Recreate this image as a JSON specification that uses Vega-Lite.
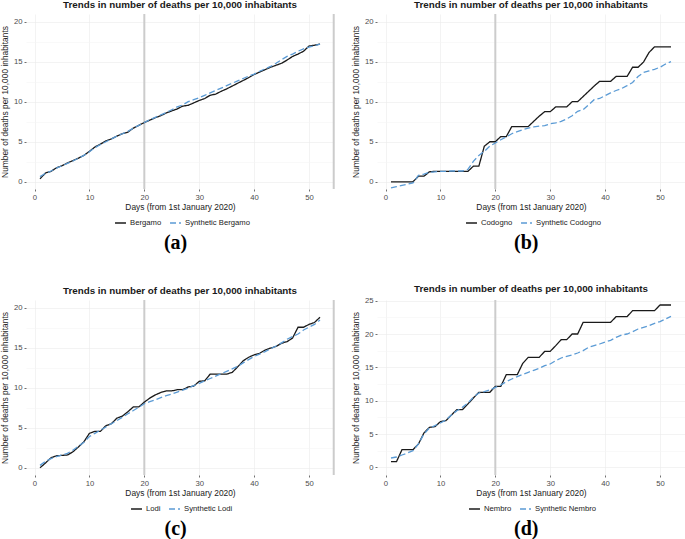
{
  "$schema": "https://vega.github.io/schema/vega-lite/v6.json",
  "background": "white",
  "padding": 0,
  "config": {
    "font": "Liberation Sans",
    "view": {"stroke": null},
    "axis": {"labelFontSize": 7.7, "labelColor": "#4d4d4d", "titleFontSize": 8.4, "titleFontWeight": "normal", "titleColor": "#1a1a1a", "domain": false, "tickColor": "#333333", "tickSize": 2, "tickWidth": 0.7, "labelPadding": 2, "gridWidth": 0.6},
    "axisX": {"titlePadding": 2},
    "axisY": {"titlePadding": 4},
    "legend": {"direction": "horizontal", "title": null, "symbolType": "stroke", "symbolSize": 120, "symbolStrokeWidth": 1.5, "labelFontSize": 7.7, "labelColor": "#1a1a1a", "columnPadding": 5, "labelOffset": 3, "padding": 0},
    "title": {"font": "Liberation Sans", "fontSize": 9.8, "fontWeight": "bold", "color": "#1a1a1a", "anchor": "middle", "frame": "group", "offset": 3}
  },
  "datasets": {
    "a": [
      {"day":1,"Bergamo":0.37,"Synthetic Bergamo":0.65},{"day":2,"Bergamo":1.1,"Synthetic Bergamo":1.05},{"day":3,"Bergamo":1.3,"Synthetic Bergamo":1.35},{"day":4,"Bergamo":1.75,"Synthetic Bergamo":1.7},{"day":5,"Bergamo":2.0,"Synthetic Bergamo":2.0},{"day":6,"Bergamo":2.35,"Synthetic Bergamo":2.3},{"day":7,"Bergamo":2.65,"Synthetic Bergamo":2.6},{"day":8,"Bergamo":2.95,"Synthetic Bergamo":2.95},{"day":9,"Bergamo":3.3,"Synthetic Bergamo":3.3},{"day":10,"Bergamo":3.8,"Synthetic Bergamo":3.75},
      {"day":11,"Bergamo":4.35,"Synthetic Bergamo":4.25},{"day":12,"Bergamo":4.7,"Synthetic Bergamo":4.65},{"day":13,"Bergamo":5.1,"Synthetic Bergamo":5.0},{"day":14,"Bergamo":5.35,"Synthetic Bergamo":5.35},{"day":15,"Bergamo":5.7,"Synthetic Bergamo":5.7},{"day":16,"Bergamo":6.0,"Synthetic Bergamo":6.0},{"day":17,"Bergamo":6.2,"Synthetic Bergamo":6.3},{"day":18,"Bergamo":6.7,"Synthetic Bergamo":6.7},{"day":19,"Bergamo":7.05,"Synthetic Bergamo":7.05},{"day":20,"Bergamo":7.4,"Synthetic Bergamo":7.4},
      {"day":21,"Bergamo":7.7,"Synthetic Bergamo":7.75},{"day":22,"Bergamo":8.0,"Synthetic Bergamo":8.05},{"day":23,"Bergamo":8.25,"Synthetic Bergamo":8.35},{"day":24,"Bergamo":8.6,"Synthetic Bergamo":8.65},{"day":25,"Bergamo":8.85,"Synthetic Bergamo":9.0},{"day":26,"Bergamo":9.1,"Synthetic Bergamo":9.35},{"day":27,"Bergamo":9.45,"Synthetic Bergamo":9.6},{"day":28,"Bergamo":9.55,"Synthetic Bergamo":10.0},{"day":29,"Bergamo":9.85,"Synthetic Bergamo":10.25},{"day":30,"Bergamo":10.15,"Synthetic Bergamo":10.5},
      {"day":31,"Bergamo":10.4,"Synthetic Bergamo":10.8},{"day":32,"Bergamo":10.8,"Synthetic Bergamo":11.1},{"day":33,"Bergamo":10.95,"Synthetic Bergamo":11.4},{"day":34,"Bergamo":11.3,"Synthetic Bergamo":11.7},{"day":35,"Bergamo":11.6,"Synthetic Bergamo":12.0},{"day":36,"Bergamo":11.95,"Synthetic Bergamo":12.3},{"day":37,"Bergamo":12.3,"Synthetic Bergamo":12.6},{"day":38,"Bergamo":12.65,"Synthetic Bergamo":12.9},{"day":39,"Bergamo":13.0,"Synthetic Bergamo":13.2},{"day":40,"Bergamo":13.4,"Synthetic Bergamo":13.45},
      {"day":41,"Bergamo":13.7,"Synthetic Bergamo":13.8},{"day":42,"Bergamo":14.0,"Synthetic Bergamo":14.1},{"day":43,"Bergamo":14.3,"Synthetic Bergamo":14.4},{"day":44,"Bergamo":14.55,"Synthetic Bergamo":14.8},{"day":45,"Bergamo":14.8,"Synthetic Bergamo":15.25},{"day":46,"Bergamo":15.2,"Synthetic Bergamo":15.65},{"day":47,"Bergamo":15.65,"Synthetic Bergamo":15.95},{"day":48,"Bergamo":15.95,"Synthetic Bergamo":16.3},{"day":49,"Bergamo":16.3,"Synthetic Bergamo":16.6},{"day":50,"Bergamo":16.95,"Synthetic Bergamo":16.8},
      {"day":51,"Bergamo":17.05,"Synthetic Bergamo":17.0},{"day":52,"Bergamo":17.2,"Synthetic Bergamo":17.2}
    ],
    "b": [
      {"day":1,"Codogno":0,"Synthetic Codogno":-0.75},{"day":2,"Codogno":0,"Synthetic Codogno":-0.6},{"day":3,"Codogno":0,"Synthetic Codogno":-0.45},{"day":4,"Codogno":0,"Synthetic Codogno":-0.3},{"day":5,"Codogno":0,"Synthetic Codogno":-0.15},{"day":6,"Codogno":0.7,"Synthetic Codogno":0.8},{"day":7,"Codogno":0.7,"Synthetic Codogno":0.95},{"day":8,"Codogno":1.25,"Synthetic Codogno":1.2},{"day":9,"Codogno":1.3,"Synthetic Codogno":1.25},{"day":10,"Codogno":1.3,"Synthetic Codogno":1.3},
      {"day":11,"Codogno":1.3,"Synthetic Codogno":1.3},{"day":12,"Codogno":1.3,"Synthetic Codogno":1.35},{"day":13,"Codogno":1.3,"Synthetic Codogno":1.35},{"day":14,"Codogno":1.3,"Synthetic Codogno":1.35},{"day":15,"Codogno":1.3,"Synthetic Codogno":1.55},{"day":16,"Codogno":1.95,"Synthetic Codogno":2.55},{"day":17,"Codogno":1.95,"Synthetic Codogno":3.3},{"day":18,"Codogno":4.45,"Synthetic Codogno":3.8},{"day":19,"Codogno":5.0,"Synthetic Codogno":4.45},{"day":20,"Codogno":5.0,"Synthetic Codogno":4.85},
      {"day":21,"Codogno":5.65,"Synthetic Codogno":5.25},{"day":22,"Codogno":5.65,"Synthetic Codogno":5.6},{"day":23,"Codogno":6.9,"Synthetic Codogno":6.0},{"day":24,"Codogno":6.9,"Synthetic Codogno":6.25},{"day":25,"Codogno":6.9,"Synthetic Codogno":6.5},{"day":26,"Codogno":6.9,"Synthetic Codogno":6.7},{"day":27,"Codogno":7.55,"Synthetic Codogno":6.85},{"day":28,"Codogno":8.2,"Synthetic Codogno":6.95},{"day":29,"Codogno":8.75,"Synthetic Codogno":7.0},{"day":30,"Codogno":8.75,"Synthetic Codogno":7.25},
      {"day":31,"Codogno":9.35,"Synthetic Codogno":7.35},{"day":32,"Codogno":9.35,"Synthetic Codogno":7.55},{"day":33,"Codogno":9.35,"Synthetic Codogno":7.85},{"day":34,"Codogno":10.0,"Synthetic Codogno":8.25},{"day":35,"Codogno":10.0,"Synthetic Codogno":8.8},{"day":36,"Codogno":10.65,"Synthetic Codogno":9.0},{"day":37,"Codogno":11.3,"Synthetic Codogno":9.6},{"day":38,"Codogno":11.95,"Synthetic Codogno":10.25},{"day":39,"Codogno":12.55,"Synthetic Codogno":10.4},{"day":40,"Codogno":12.55,"Synthetic Codogno":10.75},
      {"day":41,"Codogno":12.55,"Synthetic Codogno":11.1},{"day":42,"Codogno":13.15,"Synthetic Codogno":11.4},{"day":43,"Codogno":13.15,"Synthetic Codogno":11.65},{"day":44,"Codogno":13.15,"Synthetic Codogno":12.0},{"day":45,"Codogno":14.3,"Synthetic Codogno":12.4},{"day":46,"Codogno":14.3,"Synthetic Codogno":13.15},{"day":47,"Codogno":14.95,"Synthetic Codogno":13.65},{"day":48,"Codogno":16.15,"Synthetic Codogno":13.85},{"day":49,"Codogno":16.85,"Synthetic Codogno":14.05},{"day":50,"Codogno":16.85,"Synthetic Codogno":14.3},
      {"day":51,"Codogno":16.85,"Synthetic Codogno":14.7},{"day":52,"Codogno":16.85,"Synthetic Codogno":15.0}
    ],
    "c": [
      {"day":1,"Lodi":0,"Synthetic Lodi":0.3},{"day":2,"Lodi":0.6,"Synthetic Lodi":0.8},{"day":3,"Lodi":1.25,"Synthetic Lodi":1.15},{"day":4,"Lodi":1.5,"Synthetic Lodi":1.4},{"day":5,"Lodi":1.55,"Synthetic Lodi":1.6},{"day":6,"Lodi":1.6,"Synthetic Lodi":1.8},{"day":7,"Lodi":2.0,"Synthetic Lodi":2.2},{"day":8,"Lodi":2.6,"Synthetic Lodi":2.7},{"day":9,"Lodi":3.25,"Synthetic Lodi":3.2},{"day":10,"Lodi":4.3,"Synthetic Lodi":3.9},
      {"day":11,"Lodi":4.55,"Synthetic Lodi":4.3},{"day":12,"Lodi":4.55,"Synthetic Lodi":4.7},{"day":13,"Lodi":5.25,"Synthetic Lodi":5.1},{"day":14,"Lodi":5.5,"Synthetic Lodi":5.5},{"day":15,"Lodi":6.2,"Synthetic Lodi":5.9},{"day":16,"Lodi":6.45,"Synthetic Lodi":6.3},{"day":17,"Lodi":7.0,"Synthetic Lodi":6.75},{"day":18,"Lodi":7.6,"Synthetic Lodi":7.15},{"day":19,"Lodi":7.6,"Synthetic Lodi":7.55},{"day":20,"Lodi":8.2,"Synthetic Lodi":8.0},
      {"day":21,"Lodi":8.7,"Synthetic Lodi":8.25},{"day":22,"Lodi":9.1,"Synthetic Lodi":8.5},{"day":23,"Lodi":9.4,"Synthetic Lodi":8.75},{"day":24,"Lodi":9.6,"Synthetic Lodi":9.0},{"day":25,"Lodi":9.6,"Synthetic Lodi":9.2},{"day":26,"Lodi":9.75,"Synthetic Lodi":9.45},{"day":27,"Lodi":9.75,"Synthetic Lodi":9.7},{"day":28,"Lodi":10.1,"Synthetic Lodi":9.95},{"day":29,"Lodi":10.2,"Synthetic Lodi":10.25},{"day":30,"Lodi":10.8,"Synthetic Lodi":10.55},
      {"day":31,"Lodi":10.85,"Synthetic Lodi":10.85},{"day":32,"Lodi":11.7,"Synthetic Lodi":11.15},{"day":33,"Lodi":11.7,"Synthetic Lodi":11.45},{"day":34,"Lodi":11.7,"Synthetic Lodi":11.75},{"day":35,"Lodi":11.7,"Synthetic Lodi":12.05},{"day":36,"Lodi":11.9,"Synthetic Lodi":12.35},{"day":37,"Lodi":12.6,"Synthetic Lodi":12.65},{"day":38,"Lodi":13.35,"Synthetic Lodi":13.1},{"day":39,"Lodi":13.8,"Synthetic Lodi":13.5},{"day":40,"Lodi":14.1,"Synthetic Lodi":13.9},
      {"day":41,"Lodi":14.3,"Synthetic Lodi":14.2},{"day":42,"Lodi":14.7,"Synthetic Lodi":14.5},{"day":43,"Lodi":14.95,"Synthetic Lodi":14.85},{"day":44,"Lodi":15.15,"Synthetic Lodi":15.2},{"day":45,"Lodi":15.55,"Synthetic Lodi":15.6},{"day":46,"Lodi":15.75,"Synthetic Lodi":16.05},{"day":47,"Lodi":16.2,"Synthetic Lodi":16.4},{"day":48,"Lodi":17.55,"Synthetic Lodi":16.7},{"day":49,"Lodi":17.55,"Synthetic Lodi":17.2},{"day":50,"Lodi":17.9,"Synthetic Lodi":17.55},
      {"day":51,"Lodi":18.15,"Synthetic Lodi":17.9},{"day":52,"Lodi":18.8,"Synthetic Lodi":18.45}
    ],
    "d": [
      {"day":1,"Nembro":0.85,"Synthetic Nembro":1.4},{"day":2,"Nembro":0.85,"Synthetic Nembro":1.55},{"day":3,"Nembro":2.65,"Synthetic Nembro":1.85},{"day":4,"Nembro":2.65,"Synthetic Nembro":2.15},{"day":5,"Nembro":2.65,"Synthetic Nembro":2.5},{"day":6,"Nembro":3.5,"Synthetic Nembro":3.5},{"day":7,"Nembro":5.15,"Synthetic Nembro":5.0},{"day":8,"Nembro":6.0,"Synthetic Nembro":5.9},{"day":9,"Nembro":6.1,"Synthetic Nembro":6.25},{"day":10,"Nembro":6.85,"Synthetic Nembro":6.65},
      {"day":11,"Nembro":7.0,"Synthetic Nembro":7.1},{"day":12,"Nembro":7.85,"Synthetic Nembro":7.85},{"day":13,"Nembro":8.65,"Synthetic Nembro":8.5},{"day":14,"Nembro":8.65,"Synthetic Nembro":9.0},{"day":15,"Nembro":9.5,"Synthetic Nembro":9.65},{"day":16,"Nembro":10.4,"Synthetic Nembro":10.5},{"day":17,"Nembro":11.25,"Synthetic Nembro":11.15},{"day":18,"Nembro":11.25,"Synthetic Nembro":11.35},{"day":19,"Nembro":11.25,"Synthetic Nembro":11.6},{"day":20,"Nembro":12.15,"Synthetic Nembro":12.0},
      {"day":21,"Nembro":12.15,"Synthetic Nembro":12.35},{"day":22,"Nembro":13.9,"Synthetic Nembro":12.85},{"day":23,"Nembro":13.9,"Synthetic Nembro":13.25},{"day":24,"Nembro":13.9,"Synthetic Nembro":13.6},{"day":25,"Nembro":15.6,"Synthetic Nembro":13.95},{"day":26,"Nembro":16.5,"Synthetic Nembro":14.25},{"day":27,"Nembro":16.5,"Synthetic Nembro":14.55},{"day":28,"Nembro":16.5,"Synthetic Nembro":14.85},{"day":29,"Nembro":17.4,"Synthetic Nembro":15.25},{"day":30,"Nembro":17.4,"Synthetic Nembro":15.5},
      {"day":31,"Nembro":18.25,"Synthetic Nembro":16.0},{"day":32,"Nembro":19.15,"Synthetic Nembro":16.4},{"day":33,"Nembro":19.15,"Synthetic Nembro":16.65},{"day":34,"Nembro":20.0,"Synthetic Nembro":16.85},{"day":35,"Nembro":20.0,"Synthetic Nembro":17.15},{"day":36,"Nembro":21.75,"Synthetic Nembro":17.5},{"day":37,"Nembro":21.75,"Synthetic Nembro":18.0},{"day":38,"Nembro":21.75,"Synthetic Nembro":18.25},{"day":39,"Nembro":21.75,"Synthetic Nembro":18.5},{"day":40,"Nembro":21.75,"Synthetic Nembro":18.8},
      {"day":41,"Nembro":21.75,"Synthetic Nembro":19.05},{"day":42,"Nembro":22.6,"Synthetic Nembro":19.5},{"day":43,"Nembro":22.6,"Synthetic Nembro":19.85},{"day":44,"Nembro":22.6,"Synthetic Nembro":20.0},{"day":45,"Nembro":23.5,"Synthetic Nembro":20.35},{"day":46,"Nembro":23.5,"Synthetic Nembro":20.75},{"day":47,"Nembro":23.5,"Synthetic Nembro":21.0},{"day":48,"Nembro":23.5,"Synthetic Nembro":21.25},{"day":49,"Nembro":23.5,"Synthetic Nembro":21.6},{"day":50,"Nembro":24.35,"Synthetic Nembro":21.85},
      {"day":51,"Nembro":24.35,"Synthetic Nembro":22.25},{"day":52,"Nembro":24.35,"Synthetic Nembro":22.65}
    ],
    "vline": [{"day": 20}],
    "edge": [{"day": 54.5}]
  },
  "resolve": {"scale": {"color": "independent", "strokeDash": "independent"}, "legend": {"color": "independent", "strokeDash": "independent"}},
  "spacing": 30,
  "vconcat": [
    {
      "resolve": {"scale": {"color": "independent", "strokeDash": "independent"}, "legend": {"color": "independent", "strokeDash": "independent"}},
      "spacing": 16,
      "hconcat": [
        {
          "title": {"text": "(a)", "orient": "bottom", "font": "Liberation Serif", "fontSize": 20, "fontWeight": "bold", "color": "#000000", "anchor": "middle", "frame": "bounds", "offset": 6, "dx": 8},
          "vconcat": [
            {
              "width": 308, "height": 175,
              "title": "Trends in number of deaths per 10,000 inhabitants",
              "layer": [
                {"data": {"name": "vline"}, "mark": {"type": "rule", "color": "#cccccc", "strokeWidth": 2}, "encoding": {"x": {"field": "day", "type": "quantitative"}}},
                {"data": {"name": "edge"}, "mark": {"type": "rule", "color": "#cccccc", "strokeWidth": 2}, "encoding": {"x": {"field": "day", "type": "quantitative"}}},
                {
                  "data": {"name": "a"},
                  "transform": [{"fold": ["Bergamo", "Synthetic Bergamo"], "as": ["series", "value"]}],
                  "mark": {"type": "line", "strokeWidth": 1.3},
                  "encoding": {
                    "x": {"field": "day", "type": "quantitative", "scale": {"domain": [-1.55, 54.55], "nice": false, "zero": false}, "axis": {"title": "Days (from 1st January 2020)", "values": [0,5,10,15,20,25,30,35,40,45,50], "labelExpr": "datum.value % 10 === 0 ? datum.label : ''", "tickOpacity": {"condition": {"test": "datum.value % 10 === 0", "value": 1}, "value": 0}, "gridColor": {"condition": {"test": "datum.value % 10 === 0", "value": "#ebebeb"}, "value": "#f5f5f5"}}},
                    "y": {"field": "value", "type": "quantitative", "scale": {"domain": [-0.9, 20.95], "nice": false, "zero": false}, "axis": {"title": "Number of deaths per 10,000 inhabitants", "values": [0,2.5,5,7.5,10,12.5,15,17.5,20], "labelExpr": "datum.value % 5 === 0 ? datum.label : ''", "tickOpacity": {"condition": {"test": "datum.value % 5 === 0", "value": 1}, "value": 0}, "gridColor": {"condition": {"test": "datum.value % 5 === 0", "value": "#ebebeb"}, "value": "#f5f5f5"}}},
                    "color": {"field": "series", "type": "nominal", "scale": {"domain": ["Bergamo", "Synthetic Bergamo"], "range": ["#1a1a1a", "#5b9bd5"]}, "legend": {"orient": "none", "legendX": 88, "legendY": 202}},
                    "strokeDash": {"field": "series", "type": "nominal", "scale": {"domain": ["Bergamo", "Synthetic Bergamo"], "range": [[1, 0], [6, 3]]}, "legend": {"orient": "none", "legendX": 88, "legendY": 202}}
                  }
                }
              ]
            }
          ]
        },
        {
          "title": {"text": "(b)", "orient": "bottom", "font": "Liberation Serif", "fontSize": 20, "fontWeight": "bold", "color": "#000000", "anchor": "middle", "frame": "bounds", "offset": 6, "dx": 8},
          "vconcat": [
            {
              "width": 308, "height": 175,
              "title": "Trends in number of deaths per 10,000 inhabitants",
              "layer": [
                {"data": {"name": "vline"}, "mark": {"type": "rule", "color": "#cccccc", "strokeWidth": 2}, "encoding": {"x": {"field": "day", "type": "quantitative"}}},
                {
                  "data": {"name": "b"},
                  "transform": [{"fold": ["Codogno", "Synthetic Codogno"], "as": ["series", "value"]}],
                  "mark": {"type": "line", "strokeWidth": 1.3},
                  "encoding": {
                    "x": {"field": "day", "type": "quantitative", "scale": {"domain": [-1.55, 54.55], "nice": false, "zero": false}, "axis": {"title": "Days (from 1st January 2020)", "values": [0,5,10,15,20,25,30,35,40,45,50], "labelExpr": "datum.value % 10 === 0 ? datum.label : ''", "tickOpacity": {"condition": {"test": "datum.value % 10 === 0", "value": 1}, "value": 0}, "gridColor": {"condition": {"test": "datum.value % 10 === 0", "value": "#ebebeb"}, "value": "#f5f5f5"}}},
                    "y": {"field": "value", "type": "quantitative", "scale": {"domain": [-0.9, 20.95], "nice": false, "zero": false}, "axis": {"title": "Number of deaths per 10,000 inhabitants", "values": [0,2.5,5,7.5,10,12.5,15,17.5,20], "labelExpr": "datum.value % 5 === 0 ? datum.label : ''", "tickOpacity": {"condition": {"test": "datum.value % 5 === 0", "value": 1}, "value": 0}, "gridColor": {"condition": {"test": "datum.value % 5 === 0", "value": "#ebebeb"}, "value": "#f5f5f5"}}},
                    "color": {"field": "series", "type": "nominal", "scale": {"domain": ["Codogno", "Synthetic Codogno"], "range": ["#1a1a1a", "#5b9bd5"]}, "legend": {"orient": "none", "legendX": 88, "legendY": 202}},
                    "strokeDash": {"field": "series", "type": "nominal", "scale": {"domain": ["Codogno", "Synthetic Codogno"], "range": [[1, 0], [6, 3]]}, "legend": {"orient": "none", "legendX": 88, "legendY": 202}}
                  }
                }
              ]
            }
          ]
        }
      ]
    },
    {
      "resolve": {"scale": {"color": "independent", "strokeDash": "independent"}, "legend": {"color": "independent", "strokeDash": "independent"}},
      "spacing": 16,
      "hconcat": [
        {
          "title": {"text": "(c)", "orient": "bottom", "font": "Liberation Serif", "fontSize": 20, "fontWeight": "bold", "color": "#000000", "anchor": "middle", "frame": "bounds", "offset": 6, "dx": 8},
          "vconcat": [
            {
              "width": 308, "height": 175,
              "title": "Trends in number of deaths per 10,000 inhabitants",
              "layer": [
                {"data": {"name": "vline"}, "mark": {"type": "rule", "color": "#cccccc", "strokeWidth": 2}, "encoding": {"x": {"field": "day", "type": "quantitative"}}},
                {"data": {"name": "edge"}, "mark": {"type": "rule", "color": "#cccccc", "strokeWidth": 2}, "encoding": {"x": {"field": "day", "type": "quantitative"}}},
                {
                  "data": {"name": "c"},
                  "transform": [{"fold": ["Lodi", "Synthetic Lodi"], "as": ["series", "value"]}],
                  "mark": {"type": "line", "strokeWidth": 1.3},
                  "encoding": {
                    "x": {"field": "day", "type": "quantitative", "scale": {"domain": [-1.55, 54.55], "nice": false, "zero": false}, "axis": {"title": "Days (from 1st January 2020)", "values": [0,5,10,15,20,25,30,35,40,45,50], "labelExpr": "datum.value % 10 === 0 ? datum.label : ''", "tickOpacity": {"condition": {"test": "datum.value % 10 === 0", "value": 1}, "value": 0}, "gridColor": {"condition": {"test": "datum.value % 10 === 0", "value": "#ebebeb"}, "value": "#f5f5f5"}}},
                    "y": {"field": "value", "type": "quantitative", "scale": {"domain": [-0.9, 20.95], "nice": false, "zero": false}, "axis": {"title": "Number of deaths per 10,000 inhabitants", "values": [0,2.5,5,7.5,10,12.5,15,17.5,20], "labelExpr": "datum.value % 5 === 0 ? datum.label : ''", "tickOpacity": {"condition": {"test": "datum.value % 5 === 0", "value": 1}, "value": 0}, "gridColor": {"condition": {"test": "datum.value % 5 === 0", "value": "#ebebeb"}, "value": "#f5f5f5"}}},
                    "color": {"field": "series", "type": "nominal", "scale": {"domain": ["Lodi", "Synthetic Lodi"], "range": ["#1a1a1a", "#5b9bd5"]}, "legend": {"orient": "none", "legendX": 104, "legendY": 202}},
                    "strokeDash": {"field": "series", "type": "nominal", "scale": {"domain": ["Lodi", "Synthetic Lodi"], "range": [[1, 0], [6, 3]]}, "legend": {"orient": "none", "legendX": 104, "legendY": 202}}
                  }
                }
              ]
            }
          ]
        },
        {
          "title": {"text": "(d)", "orient": "bottom", "font": "Liberation Serif", "fontSize": 20, "fontWeight": "bold", "color": "#000000", "anchor": "middle", "frame": "bounds", "offset": 6, "dx": 8},
          "vconcat": [
            {
              "width": 308, "height": 175,
              "title": "Trends in number of deaths per 10,000 inhabitants",
              "layer": [
                {"data": {"name": "vline"}, "mark": {"type": "rule", "color": "#cccccc", "strokeWidth": 2}, "encoding": {"x": {"field": "day", "type": "quantitative"}}},
                {
                  "data": {"name": "d"},
                  "transform": [{"fold": ["Nembro", "Synthetic Nembro"], "as": ["series", "value"]}],
                  "mark": {"type": "line", "strokeWidth": 1.3},
                  "encoding": {
                    "x": {"field": "day", "type": "quantitative", "scale": {"domain": [-1.55, 54.55], "nice": false, "zero": false}, "axis": {"title": "Days (from 1st January 2020)", "values": [0,5,10,15,20,25,30,35,40,45,50], "labelExpr": "datum.value % 10 === 0 ? datum.label : ''", "tickOpacity": {"condition": {"test": "datum.value % 10 === 0", "value": 1}, "value": 0}, "gridColor": {"condition": {"test": "datum.value % 10 === 0", "value": "#ebebeb"}, "value": "#f5f5f5"}}},
                    "y": {"field": "value", "type": "quantitative", "scale": {"domain": [-1.15, 25.1], "nice": false, "zero": false}, "axis": {"title": "Number of deaths per 10,000 inhabitants", "values": [0,2.5,5,7.5,10,12.5,15,17.5,20,22.5,25], "labelExpr": "datum.value % 5 === 0 ? datum.label : ''", "tickOpacity": {"condition": {"test": "datum.value % 5 === 0", "value": 1}, "value": 0}, "gridColor": {"condition": {"test": "datum.value % 5 === 0", "value": "#ebebeb"}, "value": "#f5f5f5"}}},
                    "color": {"field": "series", "type": "nominal", "scale": {"domain": ["Nembro", "Synthetic Nembro"], "range": ["#1a1a1a", "#5b9bd5"]}, "legend": {"orient": "none", "legendX": 91, "legendY": 202}},
                    "strokeDash": {"field": "series", "type": "nominal", "scale": {"domain": ["Nembro", "Synthetic Nembro"], "range": [[1, 0], [6, 3]]}, "legend": {"orient": "none", "legendX": 91, "legendY": 202}}
                  }
                }
              ]
            }
          ]
        }
      ]
    }
  ]
}
